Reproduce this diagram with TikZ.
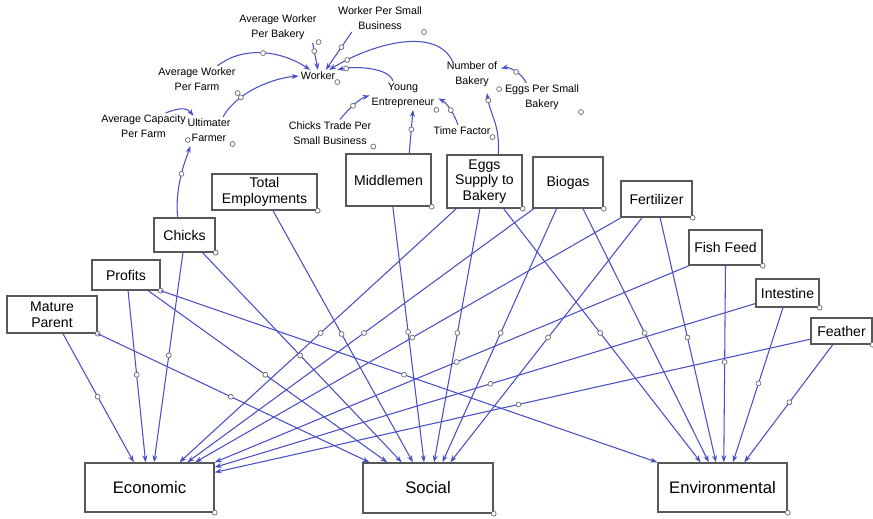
\documentclass[tikz,border=0pt]{standalone}
\usepackage{fontspec}
\setmainfont{Liberation Sans}
\usepackage{xcolor}
\usepackage{tikz}
\usetikzlibrary{arrows.meta, calc, decorations.markings}
\definecolor{lineblue}{RGB}{72,78,196}
\definecolor{boxgray}{RGB}{88,88,88}
\definecolor{holegray}{RGB}{105,105,115}
\tikzstyle{box} = [rectangle, draw=boxgray, line width=0.8pt, fill=white, inner sep=0pt, align=center, font=\fontsize{8}{9}\selectfont]
\tikzstyle{bigbox} = [box, font=\fontsize{9.5}{11}\selectfont]
\tikzstyle{var} = [inner sep=1pt, align=center, font=\fontsize{6.1}{8.5}\selectfont]
\tikzstyle{hole} = [circle, draw=holegray, fill=white, line width=0.4pt, inner sep=0pt, minimum size=2.8pt]
\tikzstyle{arrow} = [draw=lineblue, line width=0.6pt, -{Stealth[length=1.4mm,width=1mm]}]
\tikzset{conn/.style={arrow, postaction={decorate}, decoration={markings, mark=at position #1 with {\draw[draw=holegray, fill=white, line width=0.4pt] (0,0) circle (1.4pt);}}}, conn/.default=0.49}

\begin{document}
\begin{tikzpicture}[x=0.02cm, y=-0.02cm]
    \useasboundingbox (0,0) rectangle (873,519);

    % auxiliaries
    \node[var] (avgbakery) at (278,27.5) {Average Worker\\Per Bakery};
    \node[var] (wpsb) at (380,18.5) {Worker Per Small\\Business};
    \node[var] (avgfarm) at (197,79.5) {Average Worker\\Per Farm};
    \node[var] (worker) at (318,76) {Worker};
    \node[var] (nbakery) at (472,74.5) {Number of\\Bakery};
    \node[var] (young) at (403,95.5) {Young\\Entrepreneur};
    \node[var] (eggsmall) at (542,97.5) {Eggs Per Small\\Bakery};
    \node[var] (avgcap) at (143.5,126.5) {Average Capacity\\Per Farm};
    \node[var] (ultfarm) at (209,130.5) {Ultimater\\Farmer};
    \node[var] (chickstrade) at (330,133) {Chicks Trade Per\\Small Business};
    \node[var] (timefactor) at (462,131) {Time Factor};

    % boxes
    \node[box, minimum width=1.8cm, minimum height=0.74cm] (mature) at (52,314.5) {Mature\\Parent};
    \node[box, minimum width=1.36cm, minimum height=0.6cm] (profits) at (126,275) {Profits};
    \node[box, minimum width=1.22cm, minimum height=0.68cm] (chicks) at (184.5,235) {Chicks};
    \node[box, minimum width=2.1cm, minimum height=0.72cm] (totemp) at (264.5,192) {Total\\Employments};
    \node[box, minimum width=1.7cm, minimum height=1.04cm] (middlemen) at (388.5,180) {Middlemen};
    \node[box, minimum width=1.5cm, minimum height=1.06cm] (eggsupply) at (484.5,181.5) {Eggs\\Supply to\\Bakery};
    \node[box, minimum width=1.4cm, minimum height=1.02cm] (biogas) at (568,182.5) {Biogas};
    \node[box, minimum width=1.42cm, minimum height=0.72cm] (fertilizer) at (656.5,199) {Fertilizer};
    \node[box, minimum width=1.46cm, minimum height=0.7cm] (fishfeed) at (725.5,247.5) {Fish Feed};
    \node[box, minimum width=1.26cm, minimum height=0.56cm] (intestine) at (787.5,293) {Intestine};
    \node[box, minimum width=1.22cm, minimum height=0.52cm] (feather) at (841.5,331) {Feather};
    \node[bigbox, minimum width=2.58cm, minimum height=0.98cm] (econ) at (149.5,487.5) {Economic};
    \node[bigbox, minimum width=2.6cm, minimum height=1cm] (social) at (428,488) {Social};
    \node[bigbox, minimum width=2.58cm, minimum height=0.98cm] (environ) at (722.5,487.5) {Environmental};

    \foreach \n in {avgbakery,wpsb,avgfarm,worker,nbakery,young,eggsmall,avgcap,ultfarm,chickstrade,timefactor,mature,profits,chicks,totemp,middlemen,eggsupply,biogas,fertilizer,fishfeed,intestine,feather,econ,social,environ}
        \node[hole] (h\n) at (\n.south east) {};

    % links between auxiliaries
    \draw[conn=.3] ($(avgbakery.south east)+(-6,1)$) -- (worker.north);
    \draw[conn=.4] ($(wpsb.south west)!.18!(wpsb.south east)$) -- ($(worker.north west)!.7!(worker.north east)$);
    \draw[conn=.85] ($(nbakery.north west)+(8,2)$) .. controls +(-17,-37) and +(40,-25) .. ($(worker.north east)+(-8,0)$);
    \draw[conn=.85] ($(young.north)+(-10,0)$) .. controls +(-4,-14) and +(16,-4) .. (worker.north east);
    \draw[conn] ($(avgfarm.north)!.5!(avgfarm.north east)$) .. controls +(25,-20) and +(-30,-20) .. ($(worker.north west)!.3!(worker.north east)$);
    \draw[conn=.3] ($(ultfarm.north)!.6!(ultfarm.north east)$) .. controls +(10,-20) and +(-33,3) .. (worker.west);
    \draw[arrow] ($(avgcap.north)!.5!(avgcap.north east)$) .. controls +(15,-6) and +(-6,-8) .. ($(ultfarm.north west)+(8,-1)$);
    \draw[conn] ($(chickstrade.north)+(10,0)$) .. controls +(8,-10) and +(-10,3) .. (young.west);
    \draw[conn=.55] ($(middlemen.north west)!.74!(middlemen.north east)$) -- ($(young.south)+(10,0)$);
    \draw[conn] ($(timefactor.north)+(-4,0)$) .. controls +(-4,-12) and +(8,4) .. ($(young.east)+(2,3)$);
    \draw[conn] ($(eggsmall.north west)!.3!(eggsmall.north east)$) .. controls +(-5,-10) and +(8,-2) .. ($(nbakery.east)+(2,-6)$);
    \draw[conn=.88] ($(eggsupply.north west)!.68!(eggsupply.north east)$) .. controls +(2,-30) and +(3,22) .. ($(nbakery.south)+(15,4)$);
    \draw[conn=.6] ($(chicks.north west)!.39!(chicks.north east)$) .. controls +(-3,-30) and +(-5,14) .. ($(ultfarm.south west)+(5,2)$);

    % links to the three pillars
    \foreach \s/\a/\b in {mature/.62/.38, profits/.53/.47, chicks/.475/.535, eggsupply/.13/.73, biogas/.02/.79, fertilizer/.01/.85, fishfeed/.01/1}
        \draw[conn] ($(\s.south west)!\a!(\s.south east)$) -- ($(econ.north west)!\b!(econ.north east)$);
    \draw[conn] ($(intestine.north west)!.86!(intestine.south west)$) -- ($(econ.north east)!.1!(econ.south east)$);
    \draw[conn] ($(feather.north west)!.8!(feather.south west)$) -- ($(econ.north east)!.2!(econ.south east)$);
    \foreach \s/\a/\b in {mature/1/.054, profits/.82/.19, chicks/.79/.3, totemp/.58/.385, middlemen/.55/.47, eggsupply/.44/.546, biogas/.34/.61, fertilizer/.3/.67}
        \draw[conn] ($(\s.south west)!\a!(\s.south east)$) -- ($(social.north west)!\b!(social.north east)$);
    \foreach \s/\a/\b in {profits/1/0, eggsupply/.75/.333, biogas/.71/.395, fertilizer/.55/.45, fishfeed/.5/.51, intestine/.43/.58, feather/.36/.667}
        \draw[conn] ($(\s.south west)!\a!(\s.south east)$) -- ($(environ.north west)!\b!(environ.north east)$);
\end{tikzpicture}
\end{document}
